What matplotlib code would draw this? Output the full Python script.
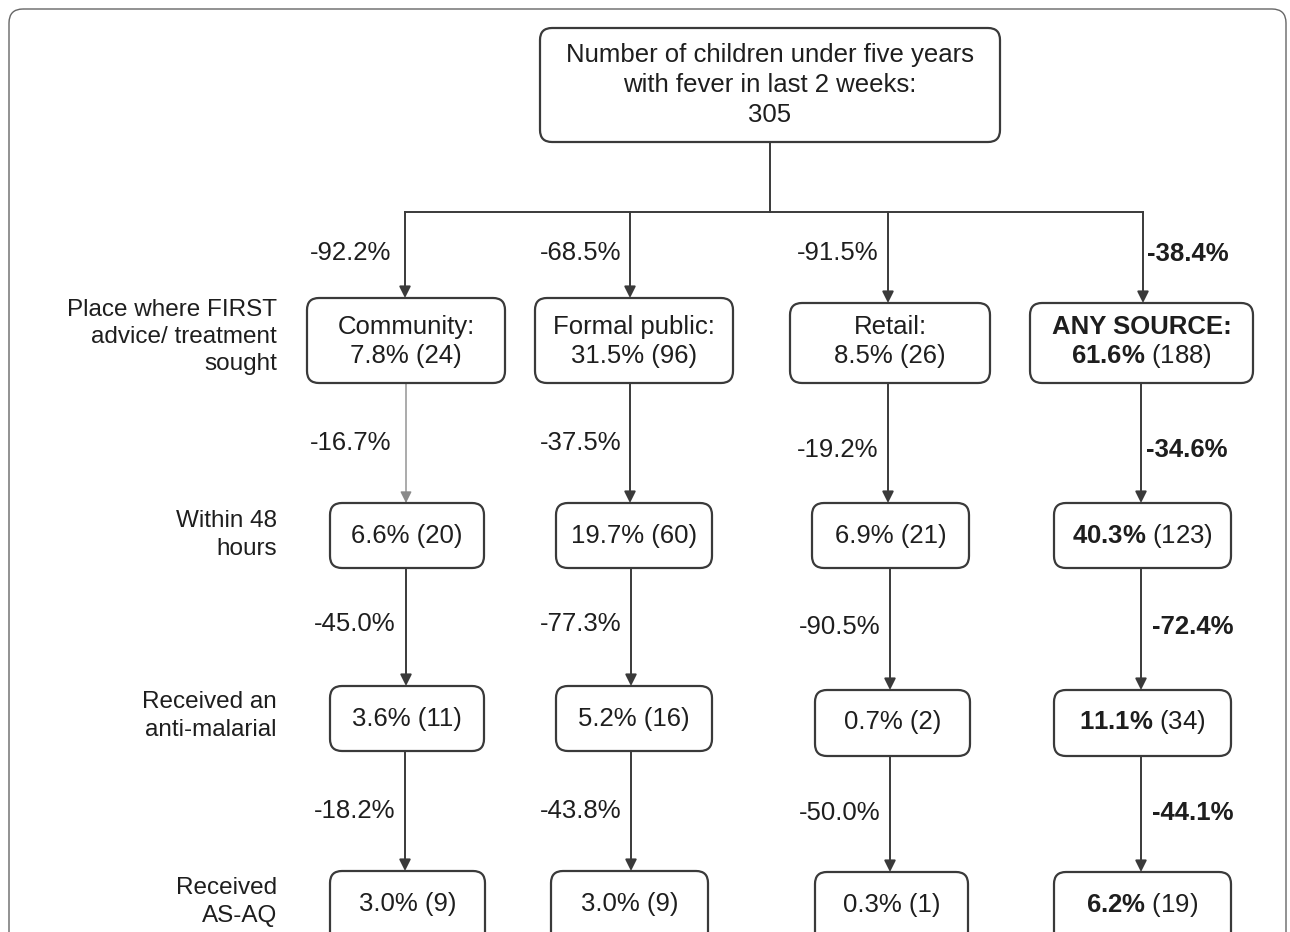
import matplotlib
matplotlib.use('Agg')
import matplotlib.pyplot as plt
from matplotlib.patches import FancyBboxPatch

plt.rcParams['font.family'] = ['Liberation Sans', 'DejaVu Sans']
plt.rcParams['mathtext.fontset'] = 'custom'
plt.rcParams['mathtext.rm'] = 'Liberation Sans'
plt.rcParams['mathtext.bf'] = 'Liberation Sans:bold'

# data
total = 305
sources = ['Community', 'Formal public', 'Retail', 'ANY SOURCE']
first_pct = [7.8, 31.5, 8.5, 61.6]
first_n = [24, 96, 26, 188]
within48_pct = [6.6, 19.7, 6.9, 40.3]
within48_n = [20, 60, 21, 123]
antimal_pct = [3.6, 5.2, 0.7, 11.1]
antimal_n = [11, 16, 2, 34]
asaq_pct = [3.0, 3.0, 0.3, 6.2]
asaq_n = [9, 9, 1, 19]
drop_first = [-92.2, -68.5, -91.5, -38.4]
drop_48 = [-16.7, -37.5, -19.2, -34.6]
drop_am = [-45.0, -77.3, -90.5, -72.4]
drop_asaq = [-18.2, -43.8, -50.0, -44.1]
row_labels = ['Place where FIRST\nadvice/ treatment\nsought', 'Within 48\nhours',
              'Received an\nanti-malarial', 'Received\nAS-AQ']

# layout (pixel coords)
boxes = [
    [(307, 298, 505, 383), (535, 298, 733, 383), (790, 303, 990, 383), (1030, 303, 1253, 383)],
    [(330, 503, 484, 568), (556, 503, 712, 568), (812, 503, 969, 568), (1054, 503, 1231, 568)],
    [(330, 686, 484, 751), (556, 686, 712, 751), (815, 690, 970, 756), (1054, 690, 1231, 756)],
    [(330, 871, 485, 980), (551, 871, 708, 980), (815, 872, 968, 980), (1054, 872, 1231, 980)],
]
text_y = [[341, 341, 341, 341], [536, 536, 536, 536], [719, 719, 722, 722], [904, 904, 905, 905]]
arrow_x = [[405, 630, 888, 1143], [406, 630, 888, 1141], [406, 631, 890, 1141], [405, 631, 890, 1141]]
drop_y = [[253, 253, 253, 254], [443, 443, 450, 450], [624, 624, 627, 627], [811, 811, 813, 813]]
drop_x = [[310, 540, 797, 1147], [310, 540, 797, 1146], [314, 540, 799, 1152], [314, 540, 799, 1152]]
label_y = [337, 535, 716, 902]

dark = '#1e1e1e'
edge = '#3a3a3a'
fs = 18.5

fig = plt.figure(figsize=(12.9, 9.32), dpi=100)
ax = fig.add_axes([0, 0, 1, 1])
ax.set_xlim(0, 1290)
ax.set_ylim(932, 0)
ax.axis('off')

# outer frame
ax.add_patch(FancyBboxPatch((9, 9), 1277, 1000, boxstyle='round,pad=0,rounding_size=14',
                            fc='none', ec='#666666', lw=1.0))


def rbox(x0, y0, x1, y1):
    ax.add_patch(FancyBboxPatch((x0, y0), x1 - x0, y1 - y0,
                                boxstyle='round,pad=0,rounding_size=12',
                                fc='white', ec=edge, lw=1.6, zorder=3))


def arrow(x, y0, y1, color=edge, lw=1.4):
    ax.annotate('', xy=(x, y1), xytext=(x, y0),
                arrowprops=dict(arrowstyle='-|>', color=color, lw=lw,
                                mutation_scale=17, shrinkA=0, shrinkB=0), zorder=2)


# top box
rbox(540, 28, 1000, 142)
ax.text(770, 85, 'Number of children under five years\nwith fever in last 2 weeks:\n%d' % total,
        ha='center', va='center', fontsize=fs, color=dark, linespacing=1.3, zorder=4)
ax.plot([770, 770], [142, 212], color=edge, lw=1.4)
ax.plot([arrow_x[0][0], arrow_x[0][3]], [212, 212], color=edge, lw=1.4)

rows = [(first_pct, first_n), (within48_pct, within48_n), (antimal_pct, antimal_n), (asaq_pct, asaq_n)]
drops = [drop_first, drop_48, drop_am, drop_asaq]

for r in range(4):
    pct, n = rows[r]
    for c in range(4):
        x0, y0, x1, y1 = boxes[r][c]
        rbox(x0, y0, x1, y1)
        cx = (x0 + x1) / 2
        if c == 3:
            main = r'$\bf{%.1f\%%}$ (%d)' % (pct[c], n[c])
        else:
            main = '%.1f%% (%d)' % (pct[c], n[c])
        if r == 0:
            if c == 3:
                ax.text(cx, text_y[r][c] - 14, 'ANY SOURCE:', ha='center', va='center',
                        fontsize=fs, fontweight='bold', color=dark, zorder=4)
            else:
                ax.text(cx, text_y[r][c] - 14, sources[c] + ':', ha='center', va='center',
                        fontsize=fs, color=dark, zorder=4)
            ax.text(cx, text_y[r][c] + 15, main, ha='center', va='center',
                    fontsize=fs, color=dark, zorder=4)
        else:
            ax.text(cx, text_y[r][c], main, ha='center', va='center',
                    fontsize=fs, color=dark, zorder=4)

        # arrow into this box
        y_start = 212 if r == 0 else boxes[r - 1][c][3]
        col = '#8a8a8a' if (r == 1 and c == 0) else edge
        lw = 1.0 if (r == 1 and c == 0) else 1.4
        arrow(arrow_x[r][c], y_start, y0, color=col, lw=lw)

        ax.text(drop_x[r][c], drop_y[r][c], '%.1f%%' % drops[r][c], ha='left', va='center',
                fontsize=fs, color=dark, fontweight='bold' if c == 3 else 'normal')

    ax.text(277, label_y[r], row_labels[r], ha='right', va='center', fontsize=17.5,
            color=dark, linespacing=1.3)

fig.savefig('out.png', dpi=100, facecolor='white')
